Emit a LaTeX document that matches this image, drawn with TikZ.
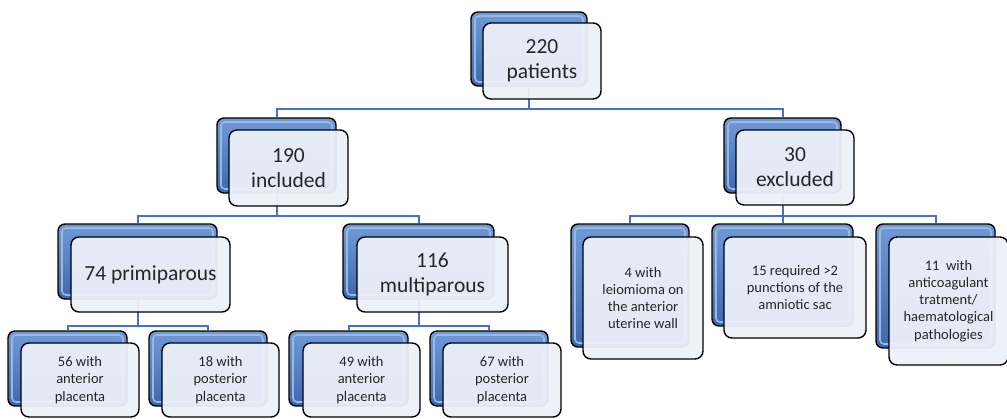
\documentclass[tikz,border=0pt]{standalone}
\usepackage{fontspec}
\setmainfont{Carlito}
\usetikzlibrary{positioning}
\usetikzlibrary{backgrounds}

\definecolor{bevlight}{RGB}{112,155,215}
\definecolor{bevdark}{RGB}{62,104,172}
\definecolor{bevhigh}{RGB}{150,185,232}
\definecolor{facefill}{RGB}{236,241,249}
\definecolor{linkblue}{RGB}{68,114,196}

\begin{document}
\begin{tikzpicture}[x=1pt, y=-1pt,
			backnode/.style={rectangle, rounded corners=7pt, draw=black, line width=1.4pt, top color=bevlight, bottom color=bevdark, inner sep=0pt,
				path picture={\draw[bevhigh, line width=1.6pt, rounded corners=4pt] ([shift={(4pt,-4pt)}]path picture bounding box.north west) rectangle ([shift={(-4pt,4pt)}]path picture bounding box.south east);}},
			facenode/.style={rectangle, rounded corners=8pt, draw=black, line width=1.4pt, fill=facefill, fill opacity=0.95, text opacity=1, text=black!85, align=center, inner sep=0pt, font=\fontsize{21.5}{25}\selectfont},
			smallface/.style={facenode, font=\fontsize{14.5}{17.2}\selectfont},
			link/.style={draw=linkblue, line width=2pt}
			]
			\useasboundingbox (0,0) rectangle (1007,418);
			
			% level 1
			\node[backnode, minimum width=116pt, minimum height=74pt] at (529, 49) (b220) {};
			\node[facenode, minimum width=118pt, minimum height=76pt] at (542, 61) (f220) {220\\patients};
			
			% level 2
			\node[backnode, minimum width=119pt, minimum height=75pt] at (276.5, 155.5) (b190) {};
			\node[facenode, minimum width=119pt, minimum height=76pt] at (288.5, 168) (f190) {190\\included};
			\node[backnode, minimum width=117pt, minimum height=75pt] at (782.5, 155.5) (b30) {};
			\node[facenode, minimum width=118pt, minimum height=75pt] at (795, 167.5) (f30) {30\\excluded};
			
			% level 3
			\node[backnode, minimum width=159pt, minimum height=75pt] at (137.5, 261.5) (b74) {};
			\node[facenode, minimum width=159pt, minimum height=75pt] at (150.5, 274.5) (f74) {74 primiparous};
			\node[backnode, minimum width=151pt, minimum height=75pt] at (418.5, 261.5) (b116) {};
			\node[facenode, minimum width=151pt, minimum height=75pt] at (432.5, 274.5) (f116) {116\\multiparous};
			\node[backnode, minimum width=118pt, minimum height=123pt] at (630, 285.5) (b4) {};
			\node[smallface, minimum width=120pt, minimum height=122pt] at (643, 298) (f4) {4 with\\leiomioma on\\the anterior\\uterine wall};
			\node[backnode, minimum width=141pt, minimum height=102pt] at (782.5, 275) (b15) {};
			\node[smallface, minimum width=142pt, minimum height=101pt] at (795, 287.5) (f15) {15 required >2\\punctions of the\\amniotic sac};
			\node[backnode, minimum width=119pt, minimum height=124pt] at (935.5, 286) (b11) {};
			\node[smallface, minimum width=119pt, minimum height=128pt] at (948.5, 301) (f11) {11\ \ with\\anticoagulant\\tratment/\\haematological\\pathologies};
			
			% level 4
			\node[backnode, minimum width=119pt, minimum height=75pt] at (67.5, 368.5) (b56) {};
			\node[smallface, minimum width=118pt, minimum height=74pt] at (80, 380) (f56) {56 with\\anterior\\placenta};
			\node[backnode, minimum width=118pt, minimum height=75pt] at (208, 368.5) (b18) {};
			\node[smallface, minimum width=117pt, minimum height=74pt] at (220.5, 380) (f18) {18 with\\posterior\\placenta};
			\node[backnode, minimum width=119pt, minimum height=75pt] at (348.5, 368.5) (b49) {};
			\node[smallface, minimum width=117pt, minimum height=74pt] at (361.5, 380) (f49) {49 with\\anterior\\placenta};
			\node[backnode, minimum width=118pt, minimum height=75pt] at (489, 368.5) (b67) {};
			\node[smallface, minimum width=118pt, minimum height=74pt] at (502, 380) (f67) {67 with\\posterior\\placenta};
			
			\begin{scope}[on background layer]
			\draw[link] (b220.south) -- ++(0,22) -| (b190.north);
			\draw[link] (b220.south) -- ++(0,22) -| (b30.north);
			\draw[link] (b190.south) -- ++(0,22) -| (b74.north);
			\draw[link] (b190.south) -- ++(0,22) -| (b116.north);
			\draw[link] (b30.south) -- ++(0,22) -| (b4.north);
			\draw[link] (b30.south) -- ++(0,22) -| (b15.north);
			\draw[link] (b30.south) -- ++(0,22) -| (b11.north);
			\draw[link] (b74.south) -- ++(0,26) -| (b56.north);
			\draw[link] (b74.south) -- ++(0,26) -| (b18.north);
			\draw[link] (b116.south) -- ++(0,26) -| (b49.north);
			\draw[link] (b116.south) -- ++(0,26) -| (b67.north);
			\end{scope}
		\end{tikzpicture}
\end{document}
